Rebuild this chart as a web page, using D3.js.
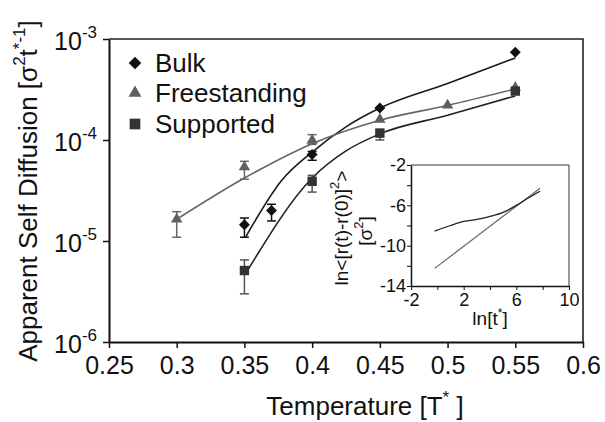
<!DOCTYPE html>
<html>
<head>
<meta charset="utf-8">
<script src="https://cdn.jsdelivr.net/npm/d3@7"></script>
<style>
  body { margin: 0; background: #fff; }
  text { font-family: "Liberation Sans", Arial, sans-serif; fill: #111; }
</style>
</head>
<body>
<div id="chart"></div>
<script>
// Main chart data: apparent self diffusion vs temperature.
const bulkT = [0.35, 0.37, 0.40, 0.45, 0.55];
const bulkD = [1.45e-5, 2.0e-5, 7.2e-5, 2.07e-4, 7.4e-4];
const bulkLo = [1.09e-5, 1.58e-5, 6.3e-5, null, null];
const bulkHi = [1.69e-5, 2.31e-5, 7.7e-5, null, null];

const freeT = [0.30, 0.35, 0.40, 0.45, 0.50, 0.55];
const freeD = [1.64e-5, 5.4e-5, 9.9e-5, 1.6e-4, 2.21e-4, 3.3e-4];
const freeLo = [1.09e-5, 4.1e-5, 9.05e-5, null, null, null];
const freeHi = [1.95e-5, 6.15e-5, 1.13e-4, null, null, null];

const suppT = [0.35, 0.40, 0.45, 0.55];
const suppD = [5.1e-6, 3.9e-5, 1.17e-4, 3.05e-4];
const suppLo = [3.0e-6, 3.05e-5, 1.0e-4, null];
const suppHi = [6.5e-6, 4.47e-5, 1.27e-4, null];

// Fitted curves.
const bulkFitT = [0.351, 0.3776, 0.40, 0.425, 0.45, 0.50, 0.55];
const bulkFitD = [1.1e-5, 4.0e-5, 7.6e-5, 1.35e-4, 2.07e-4, 3.63e-4, 6.5e-4];
const freeFitT = [0.30, 0.35, 0.40, 0.45, 0.50, 0.55];
const freeFitD = [1.64e-5, 4.2e-5, 9.2e-5, 1.57e-4, 2.2e-4, 3.2e-4];
const suppFitT = [0.353, 0.40, 0.425, 0.45, 0.50, 0.55];
const suppFitD = [5.3e-6, 4.2e-5, 7.8e-5, 1.15e-4, 1.76e-4, 2.73e-4];

// Ticks.
const xTicks = [0.25, 0.3, 0.35, 0.4, 0.45, 0.5, 0.55, 0.6];
const xTickLabels = ["0.25", "0.3", "0.35", "0.4", "0.45", "0.5", "0.55", "0.6"];
const yTicks = [1e-6, 1e-5, 1e-4, 1e-3];
const yTickExp = ["-6", "-5", "-4", "-3"];

// Inset data: ln MSD vs ln t.
const insetT = [-0.2, 1, 2, 3, 4, 5, 6, 7, 7.8];
const insetMsd = [-8.55, -8.0, -7.6, -7.4, -7.1, -6.7, -6.0, -5.2, -4.6];
const insetFitT = [-0.2, 7.8];
const insetFit = [-12.25, -4.3];
const insetXTicks = [-2, 0, 2, 4, 6, 8, 10];
const insetXLabels = [-2, 2, 6, 10];
const insetYTicks = [-14, -12, -10, -8, -6, -4, -2];
const insetYLabels = [-2, -6, -10, -14];

const width = 605, height = 422;
const svg = d3.select("#chart").append("svg")
  .attr("width", width).attr("height", height);

const x = d3.scaleLinear().domain([0.25, 0.6]).range([109, 583]);
const y = d3.scaleLog().domain([1e-6, 1e-3]).range([342, 39]);

// Box around the plot area (top and right sides).
svg.append("path")
  .attr("d", `M109,39H583V342`)
  .attr("fill", "none").attr("stroke", "#222").attr("stroke-width", 1.6);

// X axis.
const xAxis = svg.append("g")
  .attr("transform", "translate(0,342)")
  .call(d3.axisBottom(x).tickValues(xTicks).tickSize(6).tickSizeOuter(0)
    .tickFormat((d, i) => xTickLabels[i]));
xAxis.select(".domain").attr("stroke-width", 2).attr("stroke", "#111");
xAxis.selectAll(".tick line").attr("stroke-width", 1.5).attr("stroke", "#111");
xAxis.selectAll(".tick text")
  .attr("font-size", 25).attr("font-family", "Liberation Sans, Arial, sans-serif")
  .attr("fill", "#111").attr("y", 14);

// Y axis with custom power-of-ten labels.
const yAxis = svg.append("g")
  .attr("transform", "translate(109,0)")
  .call(d3.axisLeft(y).tickValues(yTicks).tickSize(6).tickSizeOuter(0).tickFormat(""));
yAxis.select(".domain").attr("stroke-width", 2).attr("stroke", "#111");
yAxis.selectAll(".tick line").attr("stroke-width", 1.5).attr("stroke", "#111");

yTicks.forEach((v, i) => {
  const t = svg.append("text")
    .attr("x", 97).attr("y", y(v) + 11)
    .attr("text-anchor", "end");
  t.append("tspan").attr("font-size", 25).text("10");
  t.append("tspan").attr("font-size", 17).attr("dy", -12).text(yTickExp[i]);
});

// Axis titles.
const xt = svg.append("text")
  .attr("x", 365).attr("y", 415).attr("text-anchor", "middle").attr("font-size", 26);
xt.append("tspan").text("Temperature [T");
xt.append("tspan").attr("font-size", 17).attr("dy", -12).text("*");
xt.append("tspan").attr("dy", 12).text(" ]");

const yt = svg.append("text")
  .attr("transform", "translate(37,191) rotate(-90)")
  .attr("text-anchor", "middle").attr("font-size", 26);
yt.append("tspan").text("Apparent Self Diffusion [σ");
yt.append("tspan").attr("font-size", 17).attr("dy", -12).text("2");
yt.append("tspan").attr("dy", 12).text("t");
yt.append("tspan").attr("font-size", 17).attr("dy", -12).text("*-1");
yt.append("tspan").attr("dy", 12).text("]");

// Series definitions.
const series = [
  { name: "Bulk", t: bulkT, d: bulkD, lo: bulkLo, hi: bulkHi, fitT: bulkFitT, fitD: bulkFitD,
    color: "#111", line: "#1a1a1a", err: "#111", symbol: "diamond" },
  { name: "Freestanding", t: freeT, d: freeD, lo: freeLo, hi: freeHi, fitT: freeFitT, fitD: freeFitD,
    color: "#5f5f5f", line: "#666", err: "#666", symbol: "triangle" },
  { name: "Supported", t: suppT, d: suppD, lo: suppLo, hi: suppHi, fitT: suppFitT, fitD: suppFitD,
    color: "#333", line: "#222", err: "#555", symbol: "square" }
];

function symbolPath(kind, scale) {
  if (kind === "diamond") return d3.symbol(d3.symbolSquare, 60 * scale)();
  if (kind === "triangle") return d3.symbol(d3.symbolTriangle, 56 * scale)();
  return d3.symbol(d3.symbolSquare, 88 * scale)();
}

const line = d3.line().curve(d3.curveMonotoneX);

// Fitted curves.
series.forEach(s => {
  svg.append("path")
    .attr("d", line(s.fitT.map((t, i) => [x(t), y(s.fitD[i])])))
    .attr("fill", "none").attr("stroke", s.line).attr("stroke-width", 1.6);
});

// Error bars.
series.forEach(s => {
  s.t.forEach((t, i) => {
    if (s.lo[i] == null) return;
    const g = svg.append("g").attr("stroke", s.err).attr("stroke-width", 1.5);
    g.append("line").attr("x1", x(t)).attr("x2", x(t)).attr("y1", y(s.lo[i])).attr("y2", y(s.hi[i]));
    g.append("line").attr("x1", x(t) - 4.5).attr("x2", x(t) + 4.5).attr("y1", y(s.lo[i])).attr("y2", y(s.lo[i]));
    g.append("line").attr("x1", x(t) - 4.5).attr("x2", x(t) + 4.5).attr("y1", y(s.hi[i])).attr("y2", y(s.hi[i]));
  });
});

// Markers.
series.forEach(s => {
  s.t.forEach((t, i) => {
    svg.append("path")
      .attr("d", symbolPath(s.symbol, 1))
      .attr("transform", `translate(${x(t)},${y(s.d[i])})` + (s.symbol === "diamond" ? " rotate(45)" : ""))
      .attr("fill", s.color);
  });
});

// Legend.
const legendY = [63, 93, 124];
series.forEach((s, i) => {
  svg.append("path")
    .attr("d", symbolPath(s.symbol, 1.3))
    .attr("transform", `translate(135,${legendY[i]})` + (s.symbol === "diamond" ? " rotate(45)" : ""))
    .attr("fill", s.color);
  svg.append("text")
    .attr("x", 155).attr("y", legendY[i] + 9)
    .attr("font-size", 26).text(s.name);
});

// Inset.
const ix = d3.scaleLinear().domain([-2, 10]).range([411, 569]);
const iy = d3.scaleLinear().domain([-14, -2]).range([286, 165]);

svg.append("path")
  .attr("d", "M411,165H569V286")
  .attr("fill", "none").attr("stroke", "#333").attr("stroke-width", 1);

const ixAxis = svg.append("g")
  .attr("transform", "translate(0,286)")
  .call(d3.axisBottom(ix).tickValues(insetXTicks).tickSize(4).tickSizeOuter(0)
    .tickFormat(d => insetXLabels.includes(d) ? String(d) : ""));
ixAxis.select(".domain").attr("stroke", "#111").attr("stroke-width", 1.5);
ixAxis.selectAll(".tick line").attr("stroke", "#111");
ixAxis.selectAll(".tick text")
  .attr("font-size", 18).attr("font-family", "Liberation Sans, Arial, sans-serif")
  .attr("fill", "#111").attr("y", 7);

const iyAxis = svg.append("g")
  .attr("transform", "translate(411,0)")
  .call(d3.axisLeft(iy).tickValues(insetYTicks).tickSize(4).tickSizeOuter(0)
    .tickFormat(d => insetYLabels.includes(d) ? String(d) : ""));
iyAxis.select(".domain").attr("stroke", "#111").attr("stroke-width", 1.5);
iyAxis.selectAll(".tick line").attr("stroke", "#111");
iyAxis.selectAll(".tick text")
  .attr("font-size", 18).attr("font-family", "Liberation Sans, Arial, sans-serif")
  .attr("fill", "#111").attr("x", -5);

svg.append("path")
  .attr("d", d3.line()(insetFitT.map((t, i) => [ix(t), iy(insetFit[i])])))
  .attr("fill", "none").attr("stroke", "#666").attr("stroke-width", 1.2);
svg.append("path")
  .attr("d", d3.line().curve(d3.curveMonotoneX)(insetT.map((t, i) => [ix(t), iy(insetMsd[i])])))
  .attr("fill", "none").attr("stroke", "#222").attr("stroke-width", 1.3);

const ixt = svg.append("text")
  .attr("x", 490).attr("y", 325).attr("text-anchor", "middle").attr("font-size", 19);
ixt.append("tspan").text("ln[t");
ixt.append("tspan").attr("font-size", 12).attr("dy", -8).text("*");
ixt.append("tspan").attr("dy", 8).text("]");

const iyt1 = svg.append("text")
  .attr("transform", "translate(348,228) rotate(-90)")
  .attr("text-anchor", "middle").attr("font-size", 19);
iyt1.append("tspan").text("ln<[r(t)-r(0)]");
iyt1.append("tspan").attr("font-size", 13).attr("dy", -9).text("2");
iyt1.append("tspan").attr("dy", 9).text(">");

const iyt2 = svg.append("text")
  .attr("transform", "translate(372,231) rotate(-90)")
  .attr("text-anchor", "middle").attr("font-size", 19);
iyt2.append("tspan").text("[σ");
iyt2.append("tspan").attr("font-size", 13).attr("dy", -9).text("2");
iyt2.append("tspan").attr("dy", 9).text("]");
</script>
</body>
</html>
